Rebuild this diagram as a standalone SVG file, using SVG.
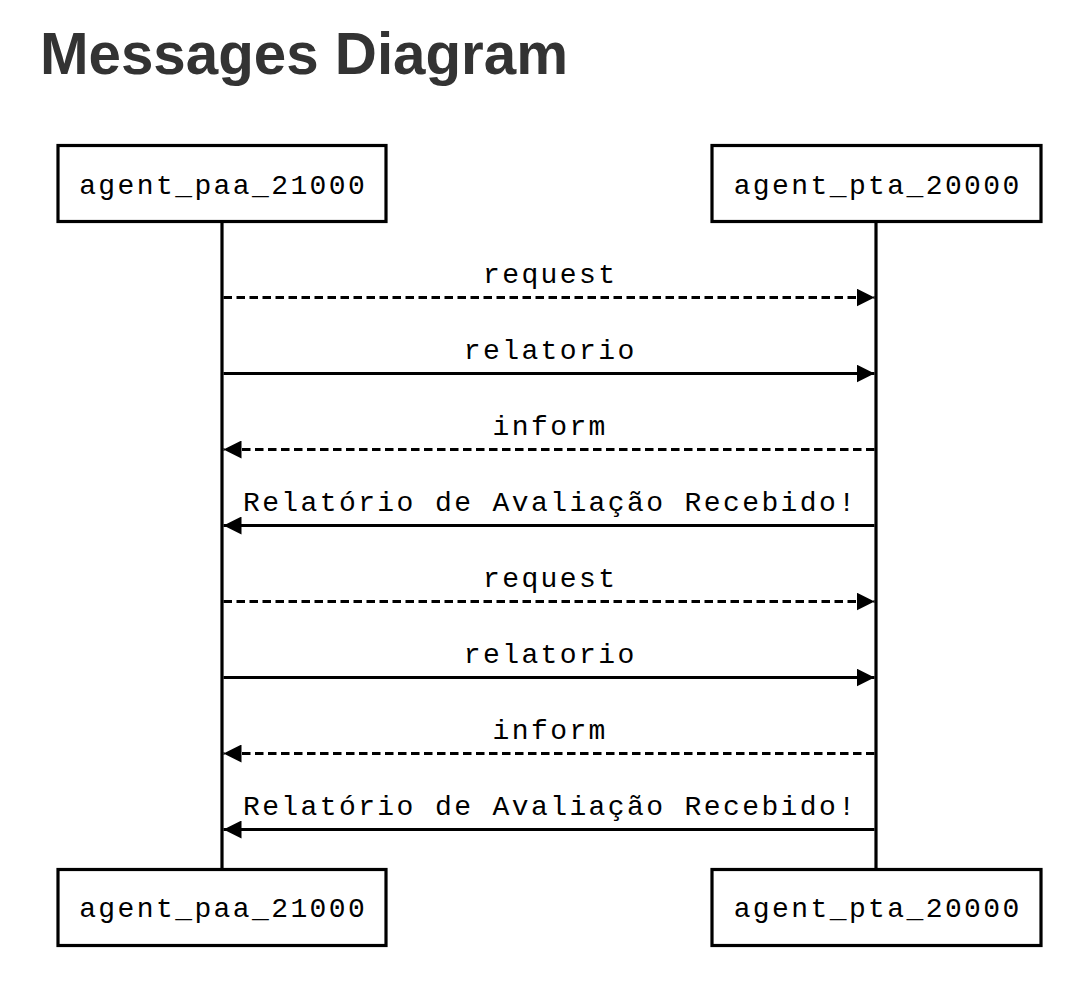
<svg xmlns="http://www.w3.org/2000/svg" width="1076" height="984" viewBox="0 0 1076 984">
  <style>
    .title { font-family: "Liberation Sans", Arial, Helvetica, sans-serif; font-weight: bold; font-size: 60px; fill: #333333; }
    .actor rect { fill: #ffffff; stroke: #000000; stroke-width: 3.2; }
    .lbl { font-family: "Liberation Mono", "DejaVu Sans Mono", monospace; font-size: 28px; letter-spacing: 2.4px; fill: #000000; text-anchor: middle; }
    .life { stroke: #000000; stroke-width: 3.2; fill: none; }
    .msg { stroke: #000000; stroke-width: 3.2; fill: none; }
    .dash { stroke-dasharray: 8.5 4.5; }
  </style>
  <defs>
    <marker id="head" viewBox="0 0 18 18" refX="18" refY="9" markerWidth="18" markerHeight="18" markerUnits="userSpaceOnUse" orient="auto">
      <path d="M0,0 L18,9 L0,18 Z" fill="#000000"/>
    </marker>
  </defs>

  <rect x="0" y="0" width="1076" height="984" fill="#ffffff"/>

  <text class="title" x="40" y="74" textLength="528" lengthAdjust="spacingAndGlyphs">Messages Diagram</text>

  <!-- lifelines -->
  <g id="lifelines">
    <line class="life" x1="222" y1="221" x2="222" y2="870"/>
    <line class="life" x1="876" y1="221" x2="876" y2="870"/>
  </g>

  <!-- participant boxes -->
  <g id="actor-paa-top" class="actor">
    <rect x="58" y="145.5" width="328" height="76"/>
    <text class="lbl" x="223.2" y="194">agent_paa_21000</text>
  </g>
  <g id="actor-pta-top" class="actor">
    <rect x="712" y="145.5" width="329" height="76"/>
    <text class="lbl" x="877.7" y="194">agent_pta_20000</text>
  </g>
  <g id="actor-paa-bottom" class="actor">
    <rect x="58" y="869.5" width="328" height="76"/>
    <text class="lbl" x="223.2" y="917">agent_paa_21000</text>
  </g>
  <g id="actor-pta-bottom" class="actor">
    <rect x="712" y="869.5" width="329" height="76"/>
    <text class="lbl" x="877.7" y="917">agent_pta_20000</text>
  </g>

  <!-- messages -->
  <g id="connectors">
    <line class="msg dash" x1="223.5" y1="297.5" x2="874.5" y2="297.5" marker-end="url(#head)"/>
    <text class="lbl" x="550.2" y="283">request</text>

    <line class="msg" x1="223.5" y1="373.5" x2="874.5" y2="373.5" marker-end="url(#head)"/>
    <text class="lbl" x="550.2" y="359">relatorio</text>

    <line class="msg dash" x1="874.5" y1="449.5" x2="223.5" y2="449.5" marker-end="url(#head)"/>
    <text class="lbl" x="550.2" y="435">inform</text>

    <line class="msg" x1="874.5" y1="525.5" x2="223.5" y2="525.5" marker-end="url(#head)"/>
    <text class="lbl" x="550.2" y="511">Relatório de Avaliação Recebido!</text>

    <line class="msg dash" x1="223.5" y1="601.5" x2="874.5" y2="601.5" marker-end="url(#head)"/>
    <text class="lbl" x="550.2" y="587">request</text>

    <line class="msg" x1="223.5" y1="677.5" x2="874.5" y2="677.5" marker-end="url(#head)"/>
    <text class="lbl" x="550.2" y="663">relatorio</text>

    <line class="msg dash" x1="874.5" y1="753.5" x2="223.5" y2="753.5" marker-end="url(#head)"/>
    <text class="lbl" x="550.2" y="739">inform</text>

    <line class="msg" x1="874.5" y1="829.5" x2="223.5" y2="829.5" marker-end="url(#head)"/>
    <text class="lbl" x="550.2" y="815">Relatório de Avaliação Recebido!</text>
  </g>
</svg>
